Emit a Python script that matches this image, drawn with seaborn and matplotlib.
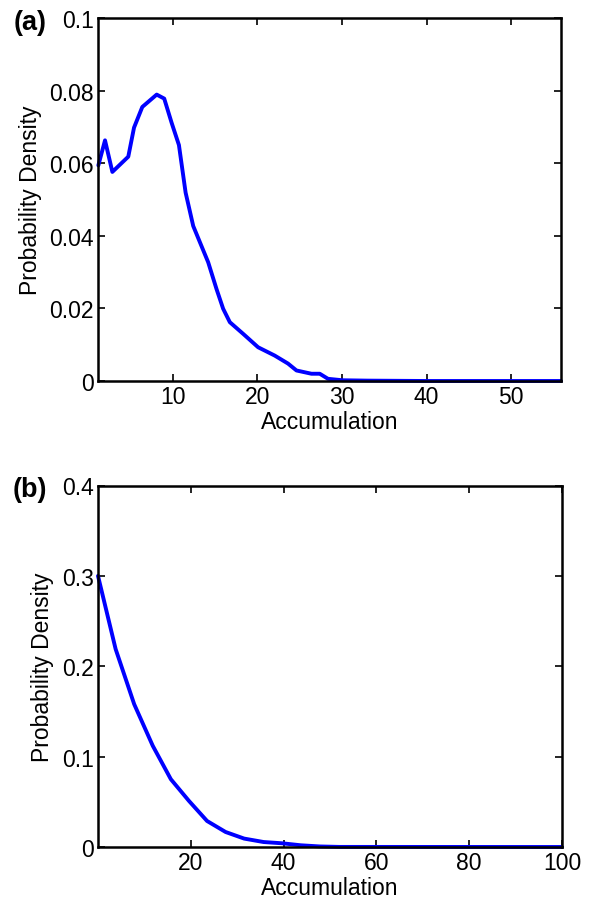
import matplotlib
matplotlib.use("Agg")
import matplotlib.pyplot as plt
import seaborn as sns
import pandas as pd

# Panel (a) data
a_x = [1.19, 1.98, 2.85, 4.73, 5.41, 6.39, 8.09, 8.98, 9.86, 10.72, 11.51, 12.41,
       14.18, 15.17, 15.95, 16.74, 18.31, 20.08, 22.05, 23.62, 24.62, 26.39, 27.37,
       28.35, 30.08, 33.0, 40.0, 50.0, 55.9]
a_y = [0.0594, 0.0663, 0.0576, 0.0618, 0.0698, 0.0755, 0.0789, 0.0778, 0.0711, 0.0650,
       0.0519, 0.0427, 0.0327, 0.0253, 0.0199, 0.0162, 0.0130, 0.0093, 0.0070, 0.0048,
       0.0029, 0.0020, 0.0020, 0.0006, 0.0002, 0.0001, 0.0, 0.0, 0.0]

# Panel (b) data
b_x = [0.0, 3.8, 7.8, 11.8, 15.7, 19.6, 23.5, 27.5, 31.5, 35.7, 39.7, 43.7, 47.8, 52.0, 100.0]
b_y = [0.300, 0.219, 0.158, 0.112, 0.075, 0.051, 0.0288, 0.0166, 0.0093, 0.0055,
       0.0041, 0.0019, 0.0006, 0.0001, 0.0]

a_yticks = [0, 0.02, 0.04, 0.06, 0.08, 0.1]
a_yticklabels = ["0", "0.02", "0.04", "0.06", "0.08", "0.1"]
a_xticks = [10, 20, 30, 40, 50]
b_yticks = [0, 0.1, 0.2, 0.3, 0.4]
b_yticklabels = ["0", "0.1", "0.2", "0.3", "0.4"]
b_xticks = [20, 40, 60, 80, 100]

sns.set_style("ticks")
plt.rcParams['font.family'] = ['Liberation Sans', 'DejaVu Sans']
plt.rcParams['xtick.direction'] = 'in'
plt.rcParams['ytick.direction'] = 'in'
plt.rcParams['text.color'] = 'black'
plt.rcParams['axes.labelcolor'] = 'black'

W, H = 593, 904
fig = plt.figure(figsize=(W / 100, H / 100), dpi=100)

def axrect(l, r, t, b):
    return [l / W, 1 - b / H, (r - l) / W, (b - t) / H]

ax_a = fig.add_axes(axrect(98, 561, 19, 382))
ax_b = fig.add_axes(axrect(98, 562, 486.5, 848))

df_a = pd.DataFrame({"x": a_x, "y": a_y})
df_b = pd.DataFrame({"x": b_x, "y": b_y})

sns.lineplot(data=df_a, x="x", y="y", ax=ax_a, color="#0000ff", lw=2.8, clip_on=False)
sns.lineplot(data=df_b, x="x", y="y", ax=ax_b, color="#0000ff", lw=2.8, clip_on=False)

fs = 16.5
for ax, xl, yl, yt, ytl, xt, lab, ylpad in [
    (ax_a, (1.15, 55.9), (0, 0.1), a_yticks, a_yticklabels, a_xticks, "(a)", 5),
    (ax_b, (0, 100), (0, 0.4), b_yticks, b_yticklabels, b_xticks, "(b)", 6),
]:
    ax.set_xlim(*xl)
    ax.set_ylim(*yl)
    ax.set_yticks(yt)
    ax.set_yticklabels(ytl)
    ax.set_xticks(xt)
    ax.set_xticklabels([str(v) for v in xt])
    ax.tick_params(axis='both', which='both', direction='in', top=True, right=True,
                   labelsize=fs, length=5, width=1.2, colors='black', pad=3)
    for s in ax.spines.values():
        s.set_visible(True)
        s.set_linewidth(1.8)
        s.set_color('black')
    ax.set_xlabel("Accumulation", fontsize=fs, labelpad=1)
    ax.set_ylabel("Probability Density", fontsize=fs, labelpad=ylpad)
    ax.text(-0.183, 0.99, lab, transform=ax.transAxes, fontsize=19.5, fontweight='bold',
            ha='left', va='center')

fig.savefig("out.png", dpi=100, facecolor='white')
